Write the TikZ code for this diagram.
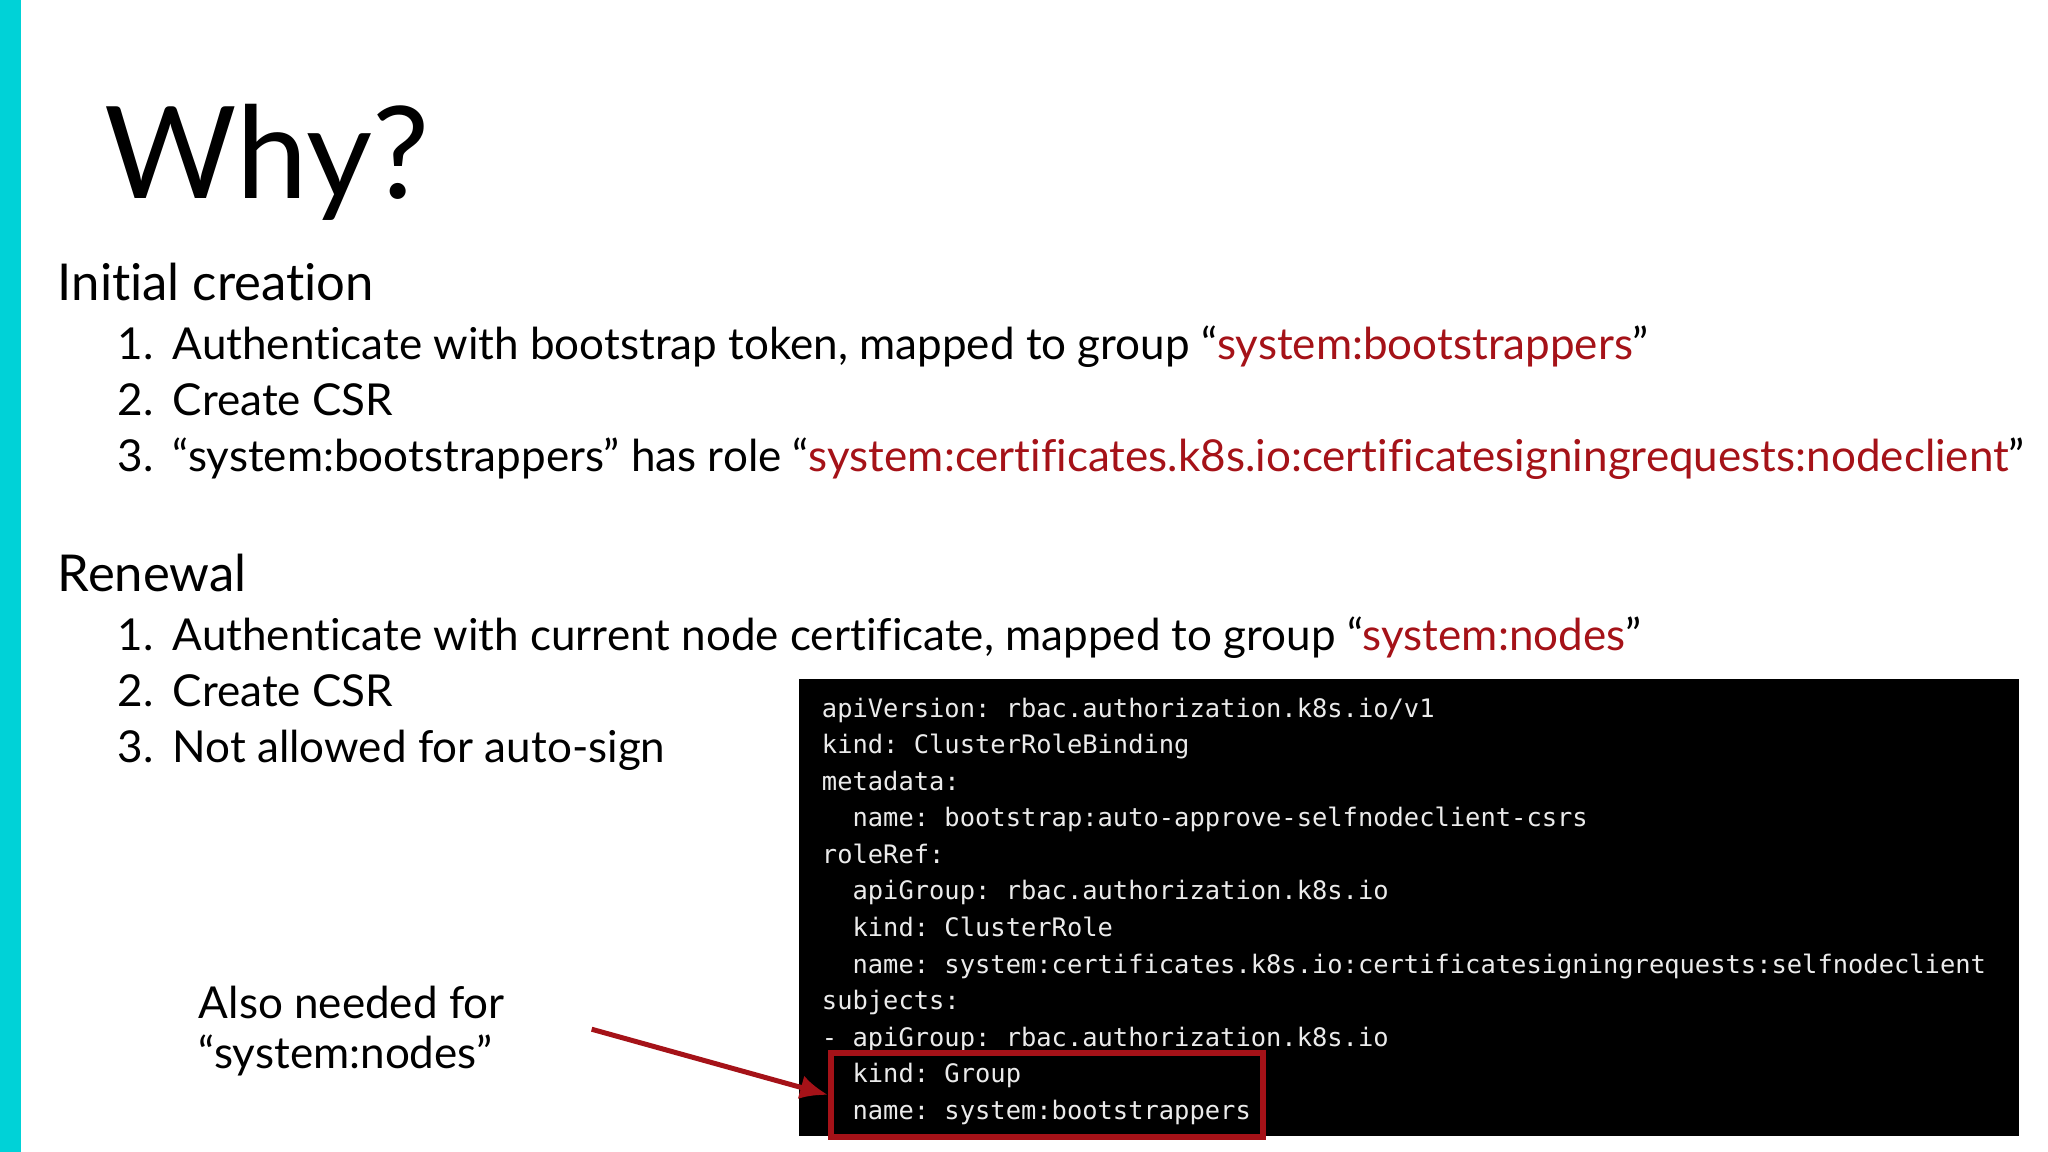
\documentclass[tikz,border=0pt]{standalone}
\usepackage{fontspec}
\usetikzlibrary{arrows.meta}
\setmainfont{Lato}[Ligatures={NoCommon,NoRare}]
\setmonofont{DejaVu Sans Mono}
\definecolor{cyanbar}{RGB}{0,210,215}
\definecolor{darkred}{RGB}{165,18,24}
\definecolor{codefg}{RGB}{235,235,235}
\begin{document}
\begin{tikzpicture}[x=0.653pt,y=-0.653pt,
  txt/.style={anchor=base west,inner sep=0pt,font=\fontsize{22}{26}\selectfont},
  hd/.style={anchor=base west,inner sep=0pt,font=\fontsize{25.4}{30}\selectfont},
  code/.style={anchor=base west,inner sep=0pt,text=codefg,font=\ttfamily\fontsize{12.72}{16}\selectfont}]
\useasboundingbox (0,0) rectangle (1568,882);
\fill[white] (0,0) rectangle (1568,882);
\fill[cyanbar] (0,0) rectangle (16,882);
\node[anchor=base west,inner sep=0pt,font=\fontsize{64}{72}\selectfont] (title) at (80,152) {Why?};
\node[hd] (ic) at (44,230) {Initial creation};
\node[txt] (a1n) at (90,275) {1.};
\node[txt] (a1) at (132,275) {Authenticate with bootstrap token, mapped to group “\textcolor{darkred}{system:bootstrappers}”};
\node[txt] (a2n) at (90,318) {2.};
\node[txt] (a2) at (132,318) {Create CSR};
\node[txt] (a3n) at (90,361) {3.};
\node[txt] (a3) at (132,361) {“system:bootstrappers” has role “\textcolor{darkred}{system:certificates.k8s.io:certificatesigningrequests:nodeclient}”};
\node[hd] (rn) at (44,453) {Renewal};
\node[txt] (b1n) at (90,498) {1.};
\node[txt] (b1) at (132,498) {Authenticate with current node certificate, mapped to group “\textcolor{darkred}{system:nodes}”};
\node[txt] (b2n) at (90,541) {2.};
\node[txt] (b2) at (132,541) {Create CSR};
\node[txt] (b3n) at (90,584) {3.};
\node[txt] (b3) at (132,584) {Not allowed for auto-sign};
\fill[black] (612,520) rectangle (1546,870);
\node[code] at (629,549) {apiVersion: rbac.authorization.k8s.io/v1};
\node[code] at (629,577) {kind: ClusterRoleBinding};
\node[code] at (629,605) {metadata:};
\node[code] at (629,633) {\ \ name: bootstrap:auto-approve-selfnodeclient-csrs};
\node[code] at (629,661) {roleRef:};
\node[code] at (629,689) {\ \ apiGroup: rbac.authorization.k8s.io};
\node[code] at (629,717) {\ \ kind: ClusterRole};
\node[code] at (629,745) {\ \ name: system:certificates.k8s.io:certificatesigningrequests:selfnodeclient};
\node[code] at (629,773) {subjects:};
\node[code] at (629,801) {- apiGroup: rbac.authorization.k8s.io};
\node[code] at (629,829) {\ \ kind: Group};
\node[code] at (629,857) {\ \ name: system:bootstrappers};
\node[draw=darkred,line width=3pt,inner sep=0pt,minimum width=331pt*0.653,minimum height=64pt*0.653,anchor=north west] (rb) at (634,804) {};
\node[txt] (n1) at (152,780) {Also needed for};
\node[txt] (n2) at (152,818) {“system:nodes”};
\coordinate (as) at (453,788);
\draw[darkred,line width=2.5pt,-{Latex[length=14pt,width=12pt]}] (as) -- (rb.west);
\end{tikzpicture}
\end{document}
